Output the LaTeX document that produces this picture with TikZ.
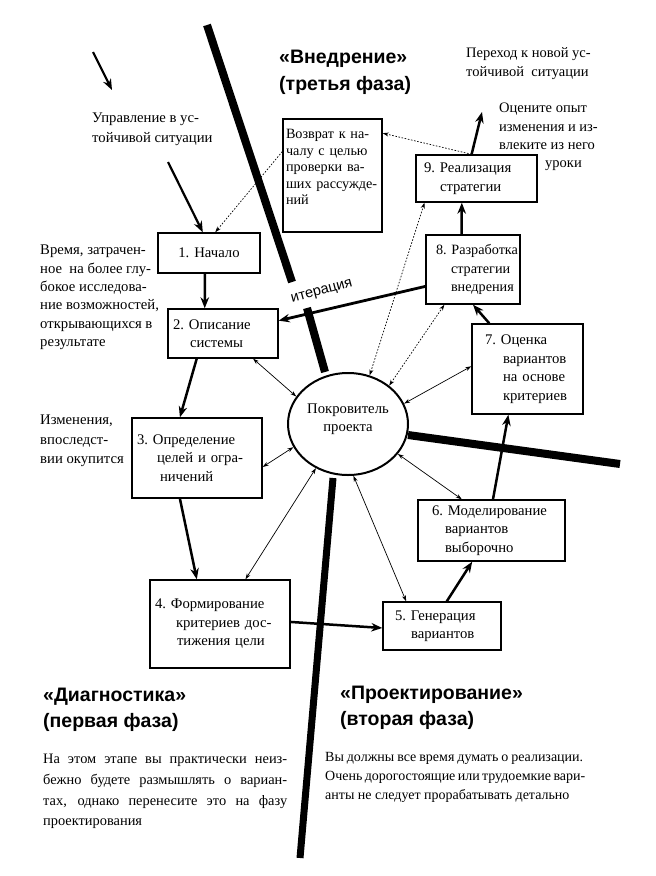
\documentclass[tikz,border=0pt]{standalone}
\usepackage{fontspec}
\setmainfont{Liberation Serif}
\newfontfamily\headfont{Liberation Sans}
\usetikzlibrary{arrows.meta,shapes.geometric,calc}
\newcommand{\bodyfs}{\fontsize{14.7}{18.5}\selectfont}
\newcommand{\headfs}{\headfont\bfseries\fontsize{19.5}{26}\selectfont}
\begin{document}
\begin{tikzpicture}[x=1pt,y=-1pt,
  stage/.style={draw, line width=1.4pt, fill=white, align=left, font=\bodyfs, inner ysep=0pt},
  thickarr/.style={line width=2.5pt, -{Stealth[length=11pt,width=8.5pt]}},
  thinarr/.style={line width=0.7pt, {Stealth[length=6pt,width=4pt]}-{Stealth[length=6pt,width=4pt]}},
  dotarr/.style={line width=0.7pt, dash pattern=on 1.6pt off 1.6pt},
  dottip/.style={-{Stealth[length=6pt,width=4pt]}},
  dotboth/.style={{Stealth[length=6pt,width=4pt]}-{Stealth[length=6pt,width=4pt]}},
  phase/.style={line width=8pt},
  txt/.style={anchor=north west, inner sep=0pt, align=left, font=\bodyfs},
  head/.style={anchor=north west, inner sep=0pt, align=left, font=\headfs},
]
\fill[white] (0,0) rectangle (656,876);
\useasboundingbox (0,0) rectangle (656,876);

% phase separators
\draw[phase] (207,25) -- (292,282);
\draw[phase] (307,308) -- (325,372);
\draw[phase] (408,435) -- (620,464);
\draw[phase, line width=7pt] (333,478) -- (300,858);

% central ellipse
\node[ellipse, draw, line width=2pt, fill=white, minimum width=120pt, minimum height=102pt, inner sep=0pt, align=center, font=\bodyfs] (c) at (348,424) {Покровитель\\проекта\\[-6pt]\mbox{}};

% boxes
\node[stage, align=center, minimum width=102pt, minimum height=40pt, inner xsep=4pt, text width=94pt] (b1) at (209,253) {1.~Начало};
\node[stage, minimum width=110pt, minimum height=49pt, inner xsep=5pt, text width=100pt] (b2) at (223,333.5) {2.~Описание\\\hspace*{17pt}системы};
\node[stage, minimum width=130pt, minimum height=80pt, inner xsep=5pt, text width=120pt] (b3) at (197,458) {3.~Определение\\\hspace*{20pt}целей и огра-\\\hspace*{23pt}ничений};
\node[stage, minimum width=140pt, minimum height=88pt, inner xsep=5pt, text width=130pt] (b4) at (220,624) {4.~Формирование\\\hspace*{21pt}критериев дос-\\\hspace*{22pt}тижения цели};
\node[stage, minimum width=118pt, minimum height=48pt, inner xsep=12pt, text width=94pt] (b5) at (442,626) {5.~Генерация\\\hspace*{16pt}вариантов};
\node[stage, minimum width=147pt, minimum height=61pt, inner xsep=14pt, text width=119pt] (b6) at (491.5,530.5) {6.~Моделирование\\\hspace*{13pt}вариантов\\\hspace*{13pt}выборочно};
\node[stage, minimum width=111pt, minimum height=90pt, inner xsep=13pt, text width=85pt] (b7) at (527.5,369) {7.~Оценка\\\hspace*{18pt}вариантов\\\hspace*{18pt}на~основе\\\hspace*{18pt}критериев};
\node[stage, font=\fontsize{14.2}{18.5}\selectfont, minimum width=94pt, minimum height=69pt, inner xsep=10pt, text width=74pt] (b8) at (473,269.5) {8.~Разработка\\\hspace*{15pt}стратегии\\\hspace*{15pt}внедрения};
\node[stage, minimum width=121pt, minimum height=47pt, inner xsep=8pt, text width=105pt] (b9) at (476.5,178.5) {9.~Реализация\\\hspace*{16pt}стратегии};
\node[stage, font=\fontsize{14.2}{16.5}\selectfont, minimum width=99pt, minimum height=113pt, inner xsep=3pt, text width=93pt] (bR) at (332.5,175.5) {Возврат к на-\\чалу с целью\\проверки ва-\\ших рассужде-\\ний\\\mbox{}};

% free texts
\node[txt, font=\fontsize{14.7}{20}\selectfont] (tUpr) at (92,113) {Управление в ус-\\тойчивой ситуации};
\node[txt, font=\fontsize{14.7}{18.3}\selectfont] (tVrem) at (40,245) {Время, затрачен-\\ное \ на более глу-\\бокое исследова-\\ние возможностей,\\открывающихся в\\результате};
\node[txt, font=\fontsize{14.7}{19.5}\selectfont] (tIzm) at (40,415) {Изменения,\\впоследст-\\вии окупится};
\node[txt, font=\fontsize{14.5}{19}\selectfont] (tPer) at (466,47) {Переход к новой ус-\\тойчивой \ ситуации};
\node[txt, font=\fontsize{14.5}{18.3}\selectfont] (tOc) at (499,103) {Оцените опыт\\изменения и из-\\влеките из него\\\hspace*{46pt}уроки};
\node[head, font=\headfont\bfseries\fontsize{19.5}{27}\selectfont] (hVn) at (279,50) {«Внедрение»\\(третья фаза)};
\node[head] (hDi) at (43,688) {«Диагностика»\\(первая фаза)};
\node[head] (hPr) at (340,686) {«Проектирование»\\(вторая фаза)};
\node[txt, font=\fontsize{14.4}{20.7}\selectfont] (pL) at (43,754) {\makebox[244pt][s]{На этом этапе вы практически неиз-}\\\makebox[244pt][s]{бежно будете размышлять о вариан-}\\\makebox[244pt][s]{тах, однако перенесите это на фазу}\\проектирования};
\node[txt, font=\fontsize{14}{19.2}\selectfont] (pR) at (325,752) {\makebox[258pt][s]{Вы должны все время думать о реализации.}\\\makebox[258pt][s]{Очень дорогостоящие или трудоемкие вари-}\\анты не следует прорабатывать детально};
\node[rotate=15, inner sep=0pt, font=\headfont\fontsize{14.5}{14.5}\selectfont] (tIt) at (322,292) {итерация};

% free-end coordinates
\coordinate (tl1) at (93,52);
\coordinate (tl2) at (112,90);
\coordinate (u1) at (168,162);
\coordinate (out9) at (482,112);

% thick arrows
\draw[thickarr, line width=2.2pt] (tl1) -- (tl2);
\draw[thickarr, line width=2.2pt] (u1) -- ($(b1.north west)!0.44!(b1.north east)$);
\draw[thickarr] ($(b1.south west)!0.46!(b1.south east)$) -- ($(b2.north west)!0.336!(b2.north east)$);
\draw[thickarr] ($(b2.south west)!0.264!(b2.south east)$) -- ($(b3.north west)!0.37!(b3.north east)$);
\draw[thickarr] ($(b3.south west)!0.37!(b3.south east)$) -- ($(b4.north west)!0.336!(b4.north east)$);
\draw[thickarr] ($(b4.north east)!0.477!(b4.south east)$) -- ($(b5.north west)!0.54!(b5.south west)$);
\draw[thickarr] ($(b5.north west)!0.54!(b5.north east)$) -- ($(b6.south west)!0.37!(b6.south east)$);
\draw[thickarr] ($(b6.north west)!0.51!(b6.north east)$) -- ($(b7.south west)!0.33!(b7.south east)$);
\draw[thickarr] ($(b7.north west)!0.16!(b7.north east)$) -- ($(b8.south west)!0.5!(b8.south east)$);
\draw[thickarr] ($(b8.north west)!0.38!(b8.north east)$) -- ($(b9.south west)!0.38!(b9.south east)$);
\draw[thickarr] ($(b9.north west)!0.46!(b9.north east)$) -- (out9);
\draw[thickarr, line width=2.8pt] ($(b8.north west)!0.74!(b8.south west)$) -- ($(b2.north east)!0.245!(b2.south east)$);

% thin double arrows
\draw[thinarr] ($(b2.south west)!0.77!(b2.south east)$) -- (c.152);
\draw[thinarr] ($(b3.north east)!0.61!(b3.south east)$) -- (c.203);
\draw[thinarr] ($(b4.north west)!0.68!(b4.north east)$) -- (c.234);
\draw[thinarr] ($(b5.north west)!0.2!(b5.north east)$) -- (c.276);
\draw[thinarr] (c.329) -- ($(b6.north west)!0.3!(b6.north east)$);
\draw[thinarr] (c.20) -- ($(b7.north west)!0.47!(b7.south west)$);

% dotted arrows
\draw[dotarr, dottip] ($(bR.north west)!0.29!(bR.south west)$) -- ($(b1.north west)!0.56!(b1.north east)$);
\draw[dotarr, dottip] ($(b9.north west)!0.46!(b9.north east)$) -- ($(bR.north east)!0.13!(bR.south east)$);
\draw[dotarr, dotboth] (c.66) -- ($(b9.south west)!0.075!(b9.south east)$);
\draw[dotarr, dotboth] (c.43) -- ($(b8.south west)!0.2!(b8.south east)$);
\end{tikzpicture}
\end{document}
